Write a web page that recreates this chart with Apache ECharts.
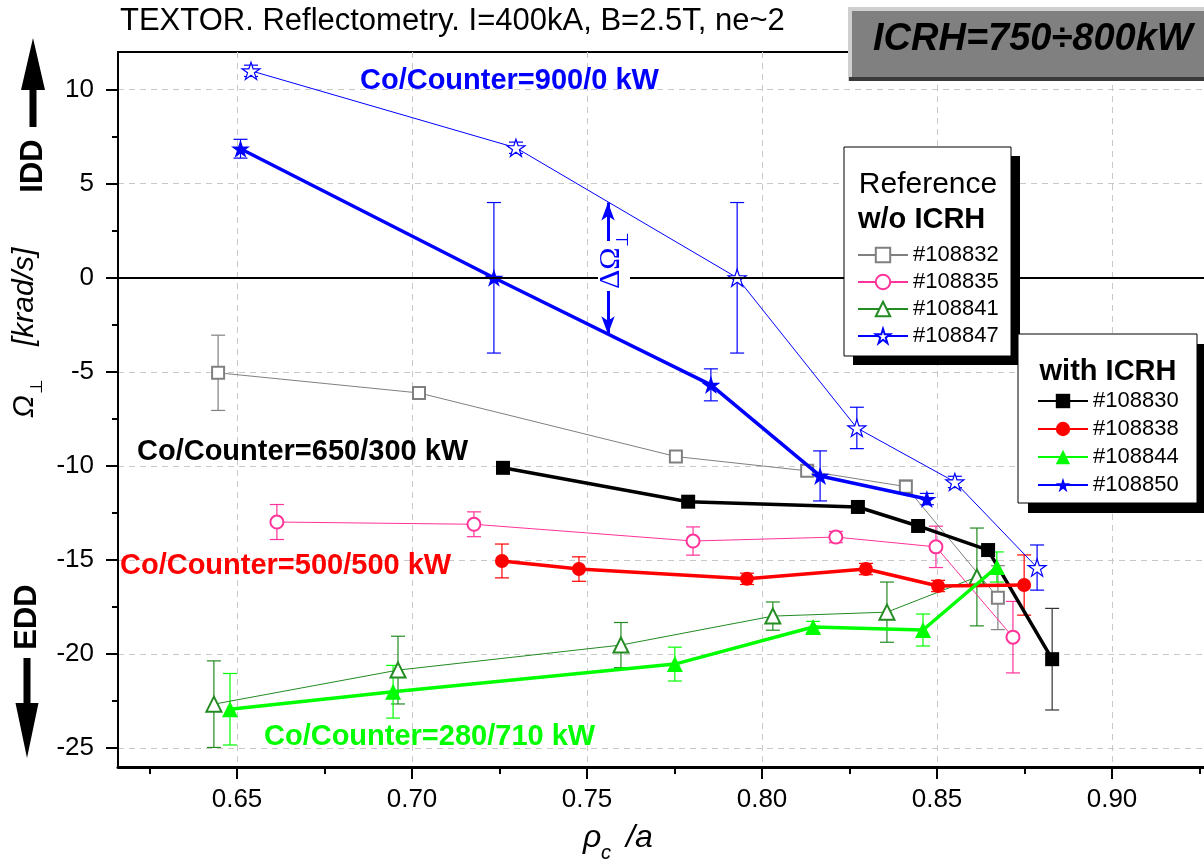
<!DOCTYPE html>
<html><head><meta charset="utf-8">
<script src="https://cdn.jsdelivr.net/npm/echarts@6/dist/echarts.min.js"></script>
<style>html,body{margin:0;padding:0;background:#fff}#c{width:1204px;height:863px}</style>
</head><body><div id="c"></div>
<script>
const FONT = "'Liberation Sans', Arial, Helvetica, sans-serif";
const SERIF = "'Liberation Serif', 'Times New Roman', serif";

// axis ticks
const xMajorTicks = [0.65, 0.70, 0.75, 0.80, 0.85, 0.90];
const xMinorTicks = [0.625, 0.675, 0.725, 0.775, 0.825, 0.875, 0.925];
const yMajorTicks = [-25, -20, -15, -10, -5, 0, 5, 10];
const yMinorTicks = [-22.5, -17.5, -12.5, -7.5, -2.5, 2.5, 7.5];

// Reference shots (w/o ICRH): [rho_c/a, Omega]
const s108832 = [[0.6446,-5.05],[0.702,-6.12],[0.7754,-9.5],[0.8129,-10.26],[0.8411,-11.1],[0.8674,-17.0]];
const e108832 = [2.0, 0, 0, 0, 0.35, 1.7];
const s108835 = [[0.6614,-12.98],[0.7177,-13.1],[0.7803,-13.99],[0.8211,-13.78],[0.8497,-14.3],[0.8717,-19.1]];
const e108835 = [0.93, 0.66, 0.75, 0.3, 1.1, 1.9];
const s108841 = [[0.6434,-22.66],[0.696,-20.85],[0.7597,-19.52],[0.8031,-17.98],[0.8357,-17.77],[0.8614,-15.9]];
const e108841 = [2.3, 1.8, 1.2, 0.75, 1.6, 2.6];
const s108847 = [[0.654,11.0],[0.7297,6.91],[0.7929,0.0],[0.8271,-7.98],[0.8551,-10.85],[0.8786,-15.4]];
const e108847 = [0.3, 0.3, 4.0, 1.1, 0.3, 1.2];

// Shots with ICRH
const s108830 = [[0.726,-10.1],[0.7789,-11.9],[0.8274,-12.18],[0.8446,-13.19],[0.8646,-14.47],[0.8829,-20.27]];
const e108830 = [0, 0, 0, 0, 0, 2.7];
const s108838 = [[0.7257,-15.05],[0.7477,-15.48],[0.7957,-16.0],[0.8297,-15.48],[0.8503,-16.38],[0.8749,-16.33]];
const e108838 = [0.9, 0.65, 0.3, 0.3, 0.3, 1.6];
const s108844 = [[0.648,-22.93],[0.6946,-22.0],[0.7751,-20.53],[0.8146,-18.56],[0.846,-18.72],[0.8671,-15.37]];
const e108844 = [1.9, 1.4, 0.9, 0.3, 0.85, 0.8];
const s108850 = [[0.651,6.86],[0.7234,0.0],[0.7854,-5.69],[0.8166,-10.53],[0.8471,-11.76]];
const e108850 = [0.5, 4.0, 0.85, 1.33, 0.3];

// Delta-Omega arrow endpoints (data coords)
const deltaArrow = [[0.756, 4.0], [0.756, -3.0]];

const refNames = ['#108832', '#108835', '#108841', '#108847'];
const icrhNames = ['#108830', '#108838', '#108844', '#108850'];

const STAR = 'path://M100,0L122.45,69.1L195.1,69.1L136.3,111.8L158.8,180.9L100,138.2L41.2,180.9L63.7,111.8L4.9,69.1L77.55,69.1Z';

function lineSeries(name, data, color, width, symbol, size, itemStyle, z) {
  return {
    type: 'line', name, data, xAxisIndex: 0, yAxisIndex: 0,
    symbol, symbolSize: size, symbolKeepAspect: true, showSymbol: true,
    lineStyle: { color, width },
    itemStyle,
    z, silent: true, animation: false
  };
}
function errSeries(name, pts, errs, color, z) {
  return {
    type: 'custom', name, xAxisIndex: 0, yAxisIndex: 0, silent: true, z, animation: false,
    data: pts.map((p, i) => [p[0], p[1], errs[i]]),
    renderItem(params, api) {
      const x = api.value(0), y = api.value(1), e = api.value(2);
      if (!e) return null;
      const t = api.coord([x, y + e]), b = api.coord([x, y - e]);
      const h = 7;
      const st = { stroke: color, lineWidth: 1.2 };
      return { type: 'group', children: [
        { type: 'line', shape: { x1: t[0], y1: t[1], x2: b[0], y2: b[1] }, style: st },
        { type: 'line', shape: { x1: t[0] - h, y1: t[1], x2: t[0] + h, y2: t[1] }, style: st },
        { type: 'line', shape: { x1: b[0] - h, y1: b[1], x2: b[0] + h, y2: b[1] }, style: st }
      ]};
    }
  };
}

const GRAY = '#808080', PINK = '#ff3399', DGREEN = '#228b22', BLUE = '#0000ff';
const BLACK = '#000000', RED = '#ff0000', LGREEN = '#00ff00';

const series = [
  errSeries('e832', s108832, e108832, GRAY, 1),
  errSeries('e835', s108835, e108835, PINK, 1),
  errSeries('e841', s108841, e108841, DGREEN, 1),
  errSeries('e847', s108847, e108847, BLUE, 1),
  errSeries('e830', s108830, e108830, '#333333', 1),
  errSeries('e838', s108838, e108838, RED, 1),
  errSeries('e844', s108844, e108844, LGREEN, 1),
  errSeries('e850', s108850, e108850, BLUE, 1),
  lineSeries('#108832', s108832, GRAY, 1, 'emptyRect', 12, { color: GRAY, borderWidth: 1 }, 3),
  lineSeries('#108835', s108835, PINK, 1, 'emptyCircle', 13, { color: PINK, borderWidth: 1 }, 3),
  lineSeries('#108841', s108841, DGREEN, 1, 'emptyTriangle', 15, { color: DGREEN, borderWidth: 1 }, 3),
  lineSeries('#108847', s108847, BLUE, 1, STAR, 18, { color: '#ffffff', borderColor: BLUE, borderWidth: 1.2 }, 3),
  Object.assign(lineSeries('#108830', s108830, BLACK, 3.5, 'rect', 14, { color: BLACK }, 4), {
    markLine: { silent: true, symbol: 'none', animation: false, label: { show: false },
      lineStyle: { color: '#000', width: 2, type: 'solid' }, data: [{ yAxis: 0 }] }
  }),
  lineSeries('#108838', s108838, RED, 3.5, 'circle', 14, { color: RED }, 4),
  lineSeries('#108844', s108844, LGREEN, 3.5, 'triangle', 16, { color: LGREEN }, 4),
  Object.assign(lineSeries('#108850', s108850, BLUE, 3.5, STAR, 19, { color: BLUE }, 4), {
    markLine: { silent: true, symbol: ['arrow', 'arrow'], symbolSize: [10, 18], animation: false,
      label: { show: false }, lineStyle: { color: BLUE, width: 3, type: 'solid' },
      data: [[{ coord: deltaArrow[0] }, { coord: deltaArrow[1] }]] }
  })
];

const legendCommon = {
  orient: 'vertical', itemWidth: 50, itemHeight: 18, padding: 0, selectedMode: false,
  textStyle: { fontSize: 22, color: '#000', fontFamily: FONT }, z: 8
};

function txt(text, x, y, size, color, style, extra) {
  return Object.assign({ type: 'text', x, y, z: 10, silent: true,
    style: Object.assign({ text, fill: color, fontSize: size, fontFamily: FONT,
      align: 'left', verticalAlign: 'middle' }, style || {}) }, extra || {});
}

const graphic = [
  // title
  txt('TEXTOR. Reflectometry. I=400kA, B=2.5T, ne~2', 120, 21, 31, '#000'),
  // ICRH box
  { type: 'rect', z: 9, silent: true, shape: { x: 848, y: 7, width: 380, height: 74 }, style: { fill: '#cfcfcf' } },
  { type: 'rect', z: 9, silent: true, shape: { x: 852, y: 11, width: 376, height: 66 }, style: { fill: '#808080' } },
  { type: 'rect', z: 9, silent: true, shape: { x: 849, y: 77, width: 379, height: 4 }, style: { fill: '#3a3a3a' } },
  txt('ICRH=750\u00f7800kW', 873, 40, 38, '#000', { fontWeight: 'bold', fontStyle: 'italic' }),
  // legend box 1
  { type: 'rect', z: 6, silent: true, shape: { x: 853, y: 156, width: 167, height: 209 }, style: { fill: '#000' } },
  { type: 'rect', z: 7, silent: true, shape: { x: 844, y: 147, width: 167, height: 209 }, style: { fill: '#fff', stroke: '#000', lineWidth: 1 } },
  txt('Reference', 928, 185, 30, '#000', { align: 'center' }),
  txt('w/o ICRH', 858, 220, 29, '#000', { fontWeight: 'bold' }),
  // legend box 2
  { type: 'rect', z: 6, silent: true, shape: { x: 1028, y: 344, width: 179, height: 169 }, style: { fill: '#000' } },
  { type: 'rect', z: 7, silent: true, shape: { x: 1018, y: 334, width: 179, height: 169 }, style: { fill: '#fff', stroke: '#000', lineWidth: 1 } },
  txt('with ICRH', 1108, 372, 29, '#000', { align: 'center', fontWeight: 'bold' }),
  // annotations
  txt('Co/Counter=900/0 kW', 360, 81, 29, BLUE, { fontWeight: 'bold' }),
  txt('Co/Counter=650/300 kW', 137, 452, 29, '#000', { fontWeight: 'bold' }),
  txt('Co/Counter=500/500 kW', 120, 566, 29, RED, { fontWeight: 'bold' }),
  txt('Co/Counter=280/710 kW', 264, 737, 29, LGREEN, { fontWeight: 'bold' }),
  // delta omega label
  { type: 'rect', z: 9, silent: true, shape: { x: 598, y: 241, width: 32, height: 50 }, style: { fill: '#fff' } },
  { type: 'group', x: 611, y: 268, rotation: Math.PI / 2, z: 10, silent: true, children: [
    { type: 'text', x: -21, y: 0, z: 10, style: { text: '\u0394\u03a9', fill: BLUE, fontSize: 30, fontFamily: SERIF, align: 'left', verticalAlign: 'middle' } },
    { type: 'text', x: 21, y: 13, z: 10, style: { text: '\u22a5', fill: BLUE, fontSize: 17, fontFamily: SERIF, align: 'left', verticalAlign: 'middle' } }
  ]},
  // y axis name
  { type: 'group', x: 25, y: 418, rotation: Math.PI / 2, z: 10, silent: true, children: [
    { type: 'text', x: 0, y: 0, style: { text: '\u03a9', fill: '#000', fontSize: 30, fontStyle: 'italic', fontFamily: FONT, align: 'left', verticalAlign: 'middle' } },
    { type: 'text', x: 24, y: 12, style: { text: '\u22a5', fill: '#000', fontSize: 17, fontFamily: FONT, align: 'left', verticalAlign: 'middle' } },
    { type: 'text', x: 72, y: 0, style: { text: '[krad/s]', fill: '#000', fontSize: 30, fontStyle: 'italic', fontFamily: FONT, align: 'left', verticalAlign: 'middle' } }
  ]},
  // x axis name
  txt('\u03c1', 583, 838, 32, '#000', { fontStyle: 'italic' }),
  txt('c', 601, 853, 20, '#000', { fontStyle: 'italic' }),
  txt('/a', 626, 838, 32, '#000', { fontStyle: 'italic' }),
  // IDD / EDD
  { type: 'polygon', z: 10, silent: true, shape: { points: [[33,38],[45,90],[36.5,90],[36.5,127],[29.5,127],[29.5,90],[21,90]] }, style: { fill: '#000' } },
  txt('IDD', 33, 166, 31, '#000', { align: 'center', fontWeight: 'bold' }, { rotation: Math.PI / 2 }),
  { type: 'polygon', z: 10, silent: true, shape: { points: [[23.5,658],[30.5,658],[30.5,703],[38.5,703],[27,758],[15.5,703],[23.5,703]] }, style: { fill: '#000' } },
  txt('EDD', 27, 617, 31, '#000', { align: 'center', fontWeight: 'bold' }, { rotation: Math.PI / 2 })
];

function xLabel(v) {
  const k = Math.round(v * 20);
  return Math.abs(v * 20 - k) < 1e-6 ? v.toFixed(2) : '';
}

const chart = echarts.init(document.getElementById('c'), null, { renderer: 'canvas' });
chart.setOption({
  animation: false,
  backgroundColor: '#fff',
  textStyle: { fontFamily: FONT },
  grid: { left: 118, top: 52, width: 1134, height: 715, show: true, borderColor: '#000', borderWidth: 2,
    backgroundColor: 'transparent', containLabel: false, outerBoundsMode: 'none' },
  xAxis: [
    { type: 'value', min: 0.616, max: 0.94, position: 'bottom', splitNumber: 6,
      axisLine: { show: true, onZero: false, lineStyle: { color: '#000', width: 3 } },
      axisTick: { show: true, inside: false, length: 12, customValues: xMajorTicks, lineStyle: { color: '#000', width: 2 } },
      axisLabel: { show: true, formatter: xLabel, fontSize: 26, color: '#000', fontFamily: FONT, margin: 20, hideOverlap: false },
      splitLine: { show: true, lineStyle: { color: '#c8c8c8', type: [6, 5], width: 1 } } },
    { type: 'value', min: 0.616, max: 0.94, position: 'bottom',
      axisLine: { show: false, onZero: false },
      axisTick: { show: true, inside: false, length: 7, customValues: xMinorTicks, lineStyle: { color: '#000', width: 2 } },
      axisLabel: { show: false }, splitLine: { show: false } }
  ],
  yAxis: [
    { type: 'value', min: -26, max: 12, position: 'left',
      axisLine: { show: true, onZero: false, lineStyle: { color: '#000', width: 2 } },
      axisTick: { show: true, inside: false, length: 12, customValues: yMajorTicks, lineStyle: { color: '#000', width: 2 } },
      axisLabel: { show: true, customValues: yMajorTicks, fontSize: 26, color: '#000', fontFamily: FONT, margin: 24 },
      splitLine: { show: true, lineStyle: { color: '#c8c8c8', type: [6, 5], width: 1 } } },
    { type: 'value', min: -26, max: 12, position: 'left',
      axisLine: { show: false, onZero: false },
      axisTick: { show: true, inside: false, length: 6, customValues: yMinorTicks, lineStyle: { color: '#000', width: 2 } },
      axisLabel: { show: false }, splitLine: { show: false } }
  ],
  legend: [
    Object.assign({ data: refNames, left: 857, top: 244, itemGap: 5 }, legendCommon),
    Object.assign({ data: icrhNames, left: 1037, top: 390, itemGap: 6 }, legendCommon)
  ],
  series,
  graphic
});
</script></body></html>
